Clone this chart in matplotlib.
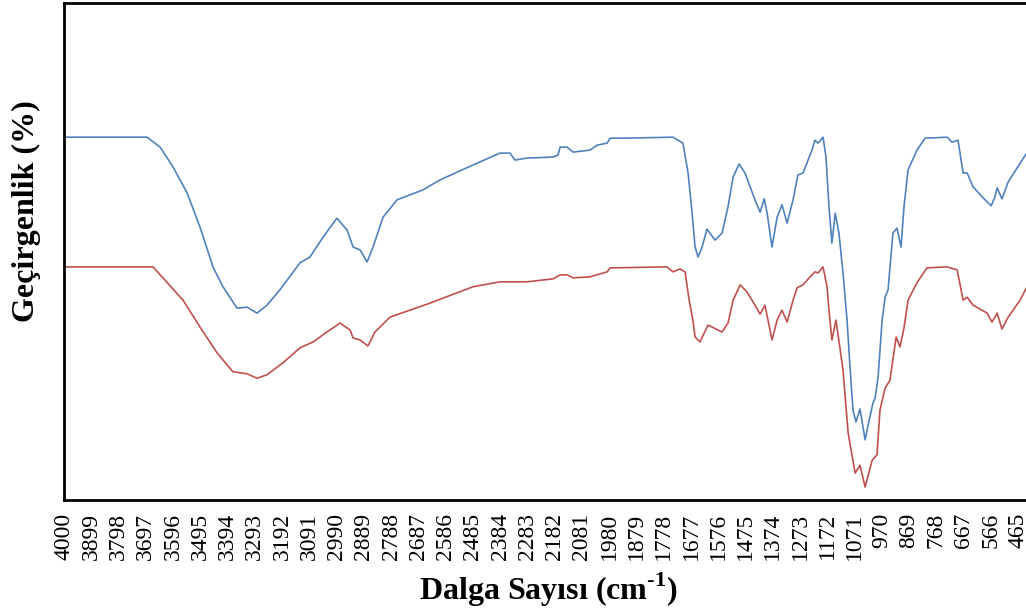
import numpy as np
import matplotlib
matplotlib.use("Agg")
import matplotlib.pyplot as plt

# wavenumber (cm-1) and transmittance
wn_blue = [4000, 3692, 3644, 3596, 3544, 3496, 3448, 3411, 3359, 3322, 3285, 3248,
           3200, 3126, 3089, 3040, 2989, 2951, 2929, 2903, 2877, 2855, 2818, 2766,
           2670, 2607, 2485, 2385, 2348, 2329, 2285, 2188, 2170, 2162, 2136, 2114,
           2051, 2025, 1988, 1977, 1929, 1744, 1707, 1688, 1673, 1662, 1651, 1636,
           1618, 1588, 1562, 1540, 1521, 1499, 1477, 1458, 1440, 1421, 1406, 1395,
           1377, 1358, 1340, 1321, 1299, 1281, 1262, 1229, 1218, 1206, 1188, 1177,
           1166, 1155, 1143, 1129, 1114, 1099, 1088, 1077, 1066, 1051, 1040, 1032,
           1021, 1003, 995, 984, 969, 958, 947, 929, 914, 899, 888, 873, 840, 810,
           728, 710, 688, 669, 654, 632, 595, 565, 551, 543, 525, 502, 436]
t_blue = [73.0, 73.0, 71.0, 67.0, 61.8, 54.9, 46.9, 42.9, 38.6, 38.8, 37.6, 39.2,
          42.3, 47.7, 48.9, 52.9, 56.7, 54.3, 50.9, 50.3, 47.9, 50.9, 56.9, 60.4,
          62.4, 64.4, 67.4, 69.8, 69.8, 68.4, 68.8, 69.0, 69.4, 71.0, 71.0, 70.0,
          70.4, 71.4, 71.8, 72.8, 72.8, 73.0, 71.8, 65.8, 57.7, 50.9, 48.9, 50.9,
          54.5, 52.3, 53.7, 59.0, 65.0, 67.6, 65.8, 63.0, 60.4, 57.9, 60.6, 57.7,
          50.9, 56.9, 59.4, 55.7, 60.4, 65.4, 65.8, 70.4, 72.4, 71.8, 73.0, 69.0,
          59.0, 51.7, 57.7, 53.7, 45.7, 36.2, 26.8, 18.1, 15.7, 18.3, 14.7, 12.1,
          15.1, 19.5, 20.5, 24.7, 36.2, 40.8, 42.3, 53.7, 54.7, 50.9, 59.0, 66.4,
          70.4, 72.8, 73.0, 72.0, 72.4, 65.8, 65.8, 63.0, 60.8, 59.2, 61.0, 62.8,
          60.6, 64.0, 69.6]

wn_red = [4000, 3670, 3559, 3496, 3433, 3374, 3322, 3285, 3248, 3189, 3126, 3077,
          3026, 2977, 2940, 2929, 2903, 2874, 2848, 2792, 2655, 2485, 2385, 2329,
          2285, 2188, 2162, 2136, 2114, 2051, 1988, 1977, 1766, 1744, 1718, 1699,
          1684, 1670, 1662, 1644, 1614, 1562, 1540, 1521, 1495, 1469, 1440, 1421,
          1403, 1377, 1358, 1340, 1321, 1299, 1284, 1262, 1236, 1218, 1206, 1188,
          1173, 1166, 1155, 1140, 1114, 1095, 1069, 1051, 1032, 1006, 988, 977,
          958, 940, 917, 903, 888, 873, 840, 803, 728, 691, 669, 654, 632, 580,
          562, 543, 525, 502, 458, 436]
t_red = [46.9, 46.9, 40.2, 34.8, 29.6, 25.8, 25.4, 24.5, 25.2, 27.6, 30.6, 31.8,
         33.8, 35.6, 34.2, 32.6, 32.2, 31.0, 33.8, 36.8, 39.4, 42.9, 43.9, 43.9,
         43.9, 44.5, 45.3, 45.3, 44.7, 44.9, 45.9, 46.7, 46.9, 45.9, 46.5, 45.9,
         40.2, 36.2, 32.8, 31.8, 35.2, 33.8, 35.6, 40.2, 43.3, 41.8, 39.2, 37.4,
         39.2, 32.2, 36.2, 38.2, 35.8, 40.2, 42.7, 43.3, 44.9, 45.9, 45.7, 46.9,
         42.9, 38.2, 32.2, 36.2, 26.2, 13.5, 5.4, 7.0, 2.6, 8.0, 9.1, 18.1,
         22.5, 24.1, 32.8, 30.8, 34.6, 40.2, 43.7, 46.7, 46.9, 46.3, 40.2, 40.8,
         39.2, 37.6, 35.8, 37.6, 34.4, 36.8, 40.2, 42.5]

tick_vals = [4000 - 101 * k for k in range(36)]
tick_labels = [str(v) for v in tick_vals]

plt.rcParams['font.family'] = ['Liberation Serif', 'DejaVu Serif']
plt.rcParams['mathtext.fontset'] = 'custom'
plt.rcParams['mathtext.rm'] = 'Liberation Serif:bold'

fig = plt.figure(figsize=(10.26, 6.12), dpi=100)
ax = fig.add_axes([64 / 1026, 1 - 500 / 612, 1 - 64 / 1026, 497 / 612])

ax.plot(wn_blue, t_blue, color='#4F81BD', lw=1.2)
ax.plot(wn_red, t_red, color='#C0504D', lw=1.2)

ax.set_xlim(4000, 436)
ax.set_ylim(0, 100)
ax.set_xticks(tick_vals)
ax.set_xticklabels(tick_labels, rotation=90, fontsize=17)
ax.tick_params(axis='x', length=0, pad=9)
ax.set_yticks([])
ax.spines['right'].set_visible(False)
for s in ['left', 'bottom', 'top']:
    ax.spines[s].set_linewidth(2.0)

fig.text(26 / 1026, 1 - 211 / 612, 'Geçirgenlik (%)', rotation=90,
         ha='center', va='center', fontsize=23, fontweight='bold')
fig.text(548 / 1026, 1 - 600 / 612, 'Dalga Sayısı (cm$^{\\mathrm{\u2010}1}$)',
         ha='center', va='baseline', fontsize=23, fontweight='bold')

fig.savefig('out.png', dpi=100)
